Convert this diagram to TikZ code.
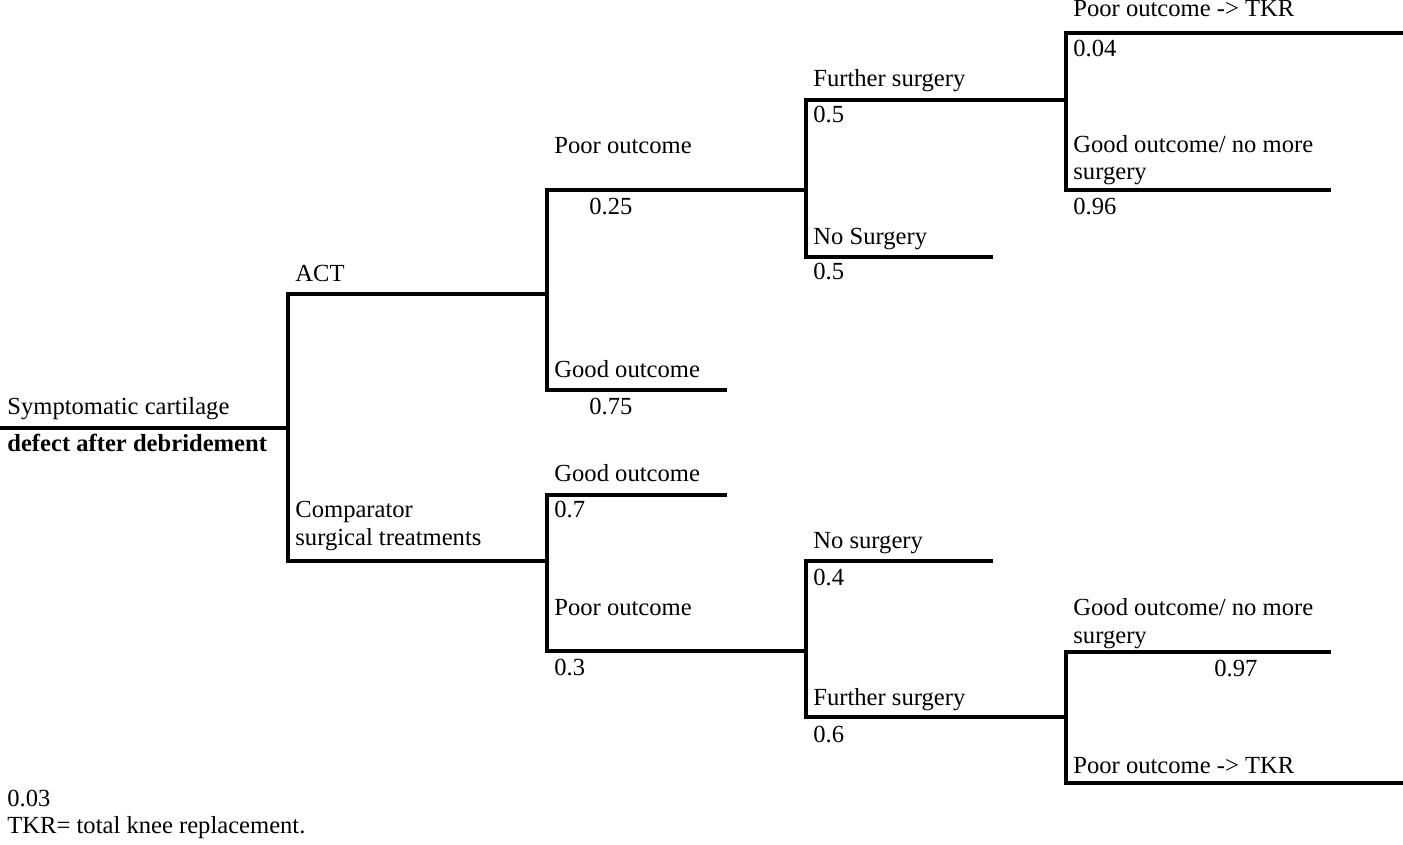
\documentclass[tikz,border=0pt]{standalone}
\usepackage{fontspec}
\setmainfont{Liberation Serif}
\usepackage{tikz}
\usetikzlibrary{positioning,calc}
\tikzset{
  branch/.style={line width=1.85pt,line join=miter},
  lbl/.style={anchor=base west,inner sep=0pt,align=left}
}

\begin{document}
\begin{tikzpicture}[x=0.5pt,y=-0.5pt,font=\fontsize{12.3}{13.75}\selectfont]
\useasboundingbox (0,0) rectangle (1403,845);
% tree points
\coordinate (start) at (0,428);   \coordinate (d0) at (288,428);
\coordinate (act) at (288,294);   \coordinate (actE) at (547,294);
\coordinate (cmp) at (288,561);   \coordinate (cmpE) at (547,561);
\coordinate (aPoor) at (547,190); \coordinate (aPoorE) at (806,190);
\coordinate (aGood) at (547,390); \coordinate (aGoodE) at (727,390);
\coordinate (aFur) at (806,100);  \coordinate (aFurE) at (1066,100);
\coordinate (aNo) at (806,257);   \coordinate (aNoE) at (993,257);
\coordinate (aTkr) at (1066,33);  \coordinate (aTkrE) at (1403,33);
\coordinate (aOk) at (1066,190);  \coordinate (aOkE) at (1331,190);
\coordinate (cGood) at (547,495); \coordinate (cGoodE) at (727,495);
\coordinate (cPoor) at (547,651); \coordinate (cPoorE) at (806,651);
\coordinate (cNo) at (806,561);   \coordinate (cNoE) at (993,561);
\coordinate (cFur) at (806,717);  \coordinate (cFurE) at (1066,717);
\coordinate (cOk) at (1066,652);  \coordinate (cOkE) at (1331,652);
\coordinate (cTkr) at (1066,783); \coordinate (cTkrE) at (1403,783);

% branches
\draw[branch] (start)--(d0);
\draw[branch] (actE)--(act)--(cmp)--(cmpE);
\draw[branch] (aPoorE)--(aPoor)--(aGood)--(aGoodE);
\draw[branch] (aFurE)--(aFur)--(aNo)--(aNoE);
\draw[branch] (aTkrE)--(aTkr)--(aOk)--(aOkE);
\draw[branch] (cGoodE)--(cGood)--(cPoor)--(cPoorE);
\draw[branch] (cNoE)--(cNo)--(cFur)--(cFurE);
\draw[branch] (cOkE)--(cOk)--(cTkr)--(cTkrE);

% labels (two-line ones sit on their last line)
\node[lbl] (lRoot) at (7,415) {Symptomatic cartilage};
\node[lbl,font=\fontsize{12.3}{13.75}\selectfont\bfseries] (lRoot2) at (7,451) {defect after debridement};
\node[lbl] (lAct) at (295,282) {ACT};
\node[lbl] (lCmp) at (295,545) {Comparator\\surgical treatments};
\foreach \n/\x/\y/\t in {lAPoor/554/154/Poor outcome, pAPoor/589/215/0.25,
    lAGood/554/377/Good outcome, pAGood/589/414/0.75,
    lAFur/813/87/Further surgery, pAFur/813/123/0.5,
    lANo/813/245/No Surgery, pANo/813/280/0.5,
    lATkr/1073/17/Poor outcome -> TKR, pATkr/1073/57/0.04,
    pAOk/1073/215/0.96,
    lCGood/554/481/Good outcome, pCGood/554/517/0.7,
    lCPoor/554/615/Poor outcome, pCPoor/554/675/0.3,
    lCNo/813/548/No surgery, pCNo/813/585/0.4,
    lCFur/813/705/Further surgery, pCFur/813/742/0.6,
    pCOk/1214/676/0.97, lCTkr/1073/773/Poor outcome -> TKR,
    pCTkr/7/806/0.03}{
  \node[lbl] (\n) at (\x,\y) {\t};
}
\node[lbl] (lAOk) at (1073,180) {Good outcome/ no more\\surgery};
\node[lbl] (lCOk) at (1073,643) {Good outcome/ no more\\surgery};
\node[lbl] (note) at (7,833) {TKR= total knee replacement.};
\end{tikzpicture}
\end{document}
